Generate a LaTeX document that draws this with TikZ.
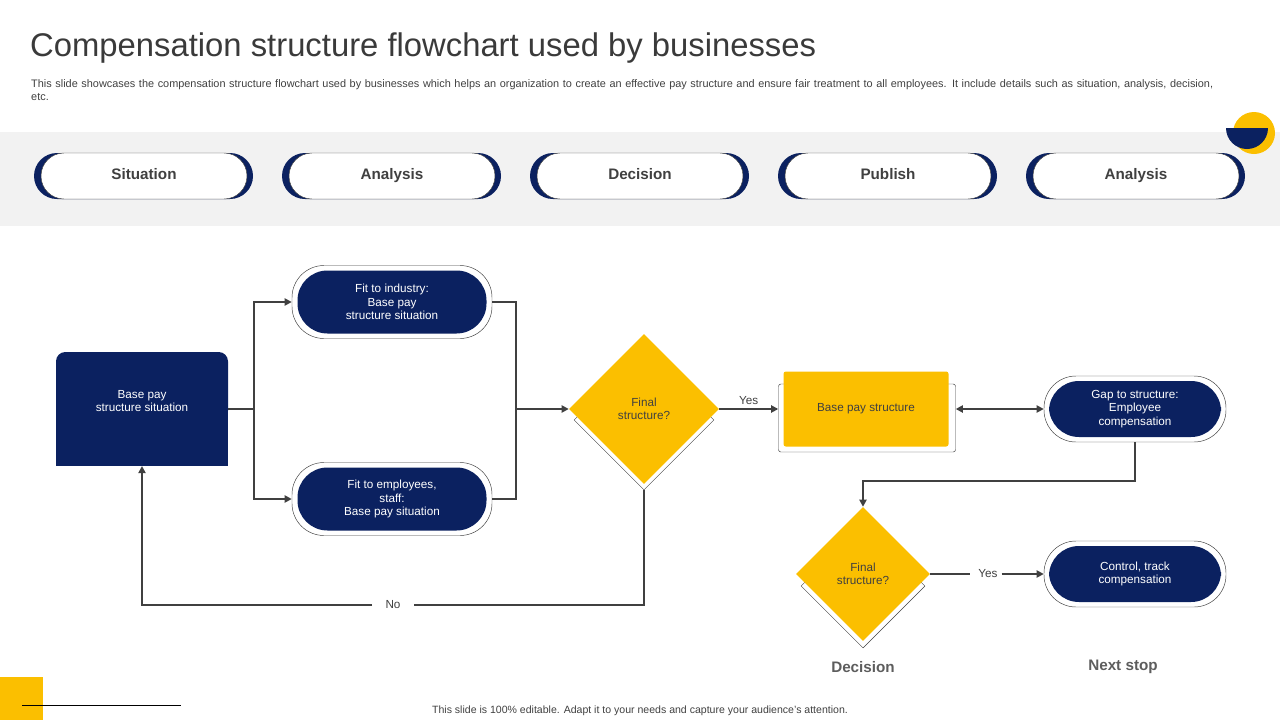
\documentclass[tikz,border=0pt]{standalone}
\usepackage{fontspec}
\setmainfont{Liberation Sans}
\usetikzlibrary{shapes.geometric,arrows.meta}
\definecolor{navy}{HTML}{0B2160}
\definecolor{gold}{HTML}{FBBF00}
\definecolor{band}{HTML}{F2F2F2}
\definecolor{ink}{HTML}{404040}

\begin{document}
\begin{tikzpicture}[x=0.03cm, y=-0.03cm, font=\fontsize{10}{11.5}\selectfont,
    line/.style={draw=ink, line width=1.5pt},
    arr/.style={line, -{Triangle[length=6pt,width=6pt]}},
    stage/.style={rounded corners=23*0.03cm, fill=white, draw=ink, minimum width=206*0.03cm, minimum height=46*0.03cm, font=\fontsize{13}{15}\selectfont\bfseries, text=ink, text height=9pt, text depth=2.5pt},
    ring/.style={rounded corners=32*0.03cm, draw=ink, fill=white, minimum width=200*0.03cm, minimum height=73*0.03cm},
    pill/.style={rounded corners=30*0.03cm, fill=navy, text=white, align=center, minimum width=189*0.03cm, minimum height=63*0.03cm},
    choice/.style={diamond, fill=gold, text=ink, align=center, inner sep=0pt},
    foot/.style={font=\fontsize{13}{15}\selectfont\bfseries, text=ink!85}]

\useasboundingbox (0,0) rectangle (1280,720);
% title block
\node[anchor=west, font=\fontsize{28}{32}\selectfont, text=ink!90!black, inner sep=0pt] (title) at (30,48) {Compensation structure flowchart used by businesses};
\node[anchor=north west, text width=1190*0.03cm, inner sep=0pt, font=\fontsize{9.3}{11}\selectfont, text=ink] (sub) at (31,79)
  {This slide showcases the compensation structure flowchart used by businesses which helps an organization to create an effective pay structure and ensure fair treatment to all employees. It include details such as situation, analysis, decision, etc.};
\fill[band] (0,132) rectangle (1280,226);
\fill[gold] (1254,133) circle (21);
\fill[navy] (1226,128) arc (180:0:21) -- cycle;

% stage pills
\foreach \x/\t [count=\i] in {143/Situation, 391/Analysis, 639/Decision, 887/Publish, 1135/Analysis} {
  \fill[navy, rounded corners=23*0.03cm] (\x-109,153) rectangle (\x+110,199);
  \node[stage] (s\i) at (\x+1,176) {\t};
}

% main flow
\fill[navy, rounded corners=8] (56,352) rectangle (228,420);
\node[fill=navy, text=white, align=center, minimum width=172*0.03cm, minimum height=100*0.03cm,
  anchor=south] (base) at (142,466) {Base pay\\structure situation\\[14pt]};

\node[ring] (r1) at (392,302) {};
\node[pill] (fit1) at (392,302) {Fit to industry:\\Base pay\\structure situation};
\node[ring] (r2) at (392,499) {};
\node[pill] (fit2) at (392,499) {Fit to employees,\\staff:\\Base pay situation};

\node[diamond, draw=ink, fill=white, minimum width=140*0.03cm, minimum height=140*0.03cm, inner sep=0pt] (sh1) at (644,420) {};
\node[choice, minimum width=150*0.03cm, minimum height=150*0.03cm] (dec1) at (644,409) {Final\\structure?};

\node[draw=ink, fill=white, rounded corners=2, minimum width=177*0.03cm, minimum height=68*0.03cm] (bps) at (867,418) {};
\node[fill=gold, text=ink, rounded corners=2, minimum width=165*0.03cm, minimum height=75*0.03cm] (bpsin) at (866,409) {Base pay structure};

\node[ring, minimum width=182*0.03cm, minimum height=66*0.03cm] (r3) at (1135,409) {};
\node[pill, minimum width=172*0.03cm, minimum height=56*0.03cm] (gap) at (1135,409) {Gap to structure:\\Employee\\compensation};

\node[diamond, draw=ink, fill=white, minimum width=124*0.03cm, minimum height=124*0.03cm, inner sep=0pt] (sh2) at (863,586) {};
\node[choice, minimum width=134*0.03cm, minimum height=134*0.03cm] (dec2) at (863,574) {Final\\structure?};

\node[ring, minimum width=182*0.03cm, minimum height=66*0.03cm] (r4) at (1135,574) {};
\node[pill, minimum width=172*0.03cm, minimum height=56*0.03cm] (ctrl) at (1135,574) {Control, track\\compensation};

% connectors
\coordinate (split) at (254,409);
\coordinate (join) at (516,409);
\draw[line] (228,409) -- (split);
\draw[arr] (split) |- (r1.west);
\draw[arr] (split) |- (r2.west);
\draw[line] (r1.east) -| (join);
\draw[line] (r2.east) -| (join);
\draw[arr] (join) -- (dec1.west);
\draw[arr] (dec1.east) -- node[above, text=ink] {Yes} (bps.west |- dec1.east);
\draw[line, {Triangle[length=6pt,width=6pt]}-{Triangle[length=6pt,width=6pt]}] (bps.east |- r3.west) -- (r3.west);
\coordinate (turn) at (1135,481);
\draw[arr] (r3.south) -- (turn) -| (dec2.north);
\draw[line] (dec2.east) -- (970,574);
\node[text=ink] (yes2) at (988,574) {Yes};
\draw[arr] (yes2.east) -- (r4.west);
\coordinate (low) at (644,605);
\draw[line] (sh1.south) -- (low) -- (414,605);
\node[text=ink] (no) at (393,605) {No};
\draw[arr] (372,605) -| (base.south);

% bottom labels
\node[foot] (fdec) at (863,667) {Decision};
\node[foot] (fnext) at (1123,667) {Next stop};
\fill[gold] (0,677) rectangle (43,720);
\draw[black, line width=0.6pt] (22,705) -- (181,705);
\node[font=\fontsize{9}{10}\selectfont, text=ink] (note) at (640,711) {This slide is 100\% editable. Adapt it to your needs and capture your audience's attention.};
\end{tikzpicture}
\end{document}
